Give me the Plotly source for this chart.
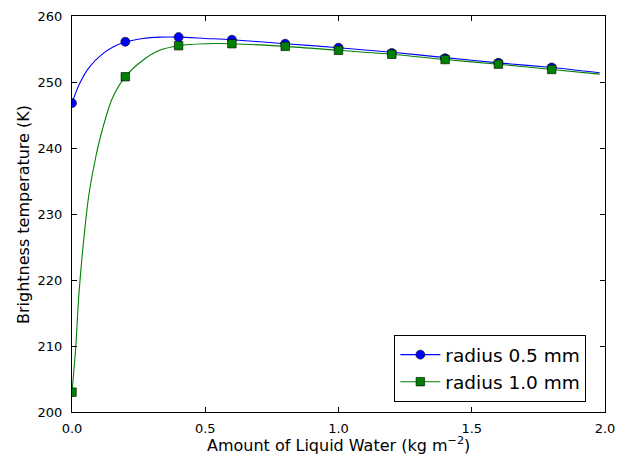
import plotly.graph_objects as go

# Marker data
x_marks = [0.0, 0.2, 0.4, 0.6, 0.8, 1.0, 1.2, 1.4, 1.6, 1.8]
blue_marks = [246.8, 256.1, 256.8, 256.4, 255.8, 255.2, 254.4, 253.6, 252.9, 252.2]
green_marks = [203.0, 250.8, 255.5, 255.8, 255.4, 254.8, 254.2, 253.4, 252.7, 251.9]

# Smooth curves
x_blue_curve = [0.0, 0.029, 0.066, 0.116, 0.154, 0.2, 0.266, 0.33, 0.4, 0.5, 0.6, 0.8, 1.0, 1.2, 1.4, 1.6, 1.8, 1.98]
y_blue_curve = [246.8, 249.8, 252.3, 254.3, 255.3, 256.05, 256.6, 256.8, 256.8, 256.6, 256.4, 255.8, 255.2, 254.5, 253.7, 252.9, 252.2, 251.4]
x_green_curve = [0.0, 0.014, 0.026, 0.045, 0.064, 0.089, 0.114, 0.151, 0.2, 0.266, 0.329, 0.4, 0.5, 0.6, 0.8, 1.0, 1.2, 1.4, 1.6, 1.8, 1.98]
y_green_curve = [203.0, 209.8, 217.9, 226.5, 233.1, 238.6, 242.8, 247.5, 250.8, 253.3, 254.8, 255.5, 255.8, 255.8, 255.4, 254.8, 254.2, 253.4, 252.7, 251.9, 251.2]

series_names = ["radius 0.5 mm", "radius 1.0 mm"]
x_ticks = [0.0, 0.5, 1.0, 1.5, 2.0]
y_ticks = [200, 210, 220, 230, 240, 250, 260]
x_title = "Amount of Liquid Water (kg m<sup>−2</sup>)"
y_title = "Brightness temperature (K)"

BLUE = "#0000ff"
GREEN = "#008000"
FONT = "DejaVu Sans"

fig = go.Figure()
fig.add_trace(go.Scatter(x=x_blue_curve, y=y_blue_curve, mode="lines",
                         line=dict(color=BLUE, width=1.1, shape="spline", smoothing=0.8),
                         showlegend=False, hoverinfo="skip"))
fig.add_trace(go.Scatter(x=x_green_curve, y=y_green_curve, mode="lines",
                         line=dict(color=GREEN, width=1.1, shape="spline", smoothing=0.8),
                         showlegend=False, hoverinfo="skip"))
fig.add_trace(go.Scatter(x=x_marks, y=blue_marks, mode="markers",
                         marker=dict(symbol="circle", size=9, color=BLUE,
                                     line=dict(color="black", width=0.6)),
                         showlegend=False))
fig.add_trace(go.Scatter(x=x_marks, y=green_marks, mode="markers",
                         marker=dict(symbol="square", size=8.5, color=GREEN,
                                     line=dict(color="black", width=0.6)),
                         showlegend=False))
# legend entries
fig.add_trace(go.Scatter(x=[None], y=[None], mode="lines+markers", name=series_names[0],
                         line=dict(color=BLUE, width=1.1),
                         marker=dict(symbol="circle", size=9, color=BLUE,
                                     line=dict(color="black", width=0.6))))
fig.add_trace(go.Scatter(x=[None], y=[None], mode="lines+markers", name=series_names[1],
                         line=dict(color=GREEN, width=1.1),
                         marker=dict(symbol="square", size=8.5, color=GREEN,
                                     line=dict(color="black", width=0.6))))

axis_common = dict(showgrid=False, zeroline=False, showline=True, linecolor="black",
                   linewidth=1, mirror="ticks", ticks="inside", ticklen=5,
                   tickcolor="black", tickwidth=1, automargin=False,
                   tickfont=dict(family=FONT, size=13, color="black"))

fig.update_xaxes(range=[0, 2.0], tickvals=x_ticks, ticktext=[f"{v:.1f}" for v in x_ticks],
                 ticklabelstandoff=4, **axis_common)
fig.update_yaxes(range=[200, 260], tickvals=y_ticks, ticktext=[str(v) for v in y_ticks],
                 ticklabelstandoff=6, **axis_common)

fig.add_annotation(text=x_title, xref="paper", yref="paper", x=0.5, y=-0.083,
                   xanchor="center", yanchor="middle", showarrow=False,
                   font=dict(family=FONT, size=16, color="black"))
fig.add_annotation(text=y_title, xref="paper", yref="paper", x=-0.092, y=0.5,
                   xanchor="center", yanchor="middle", showarrow=False, textangle=-90,
                   font=dict(family=FONT, size=16, color="black"))

# page body has an 8px margin, so the figure is sized to fit the window
fig.update_layout(
    width=622, height=448,
    margin=dict(l=64, r=25, t=8, b=44),
    plot_bgcolor="white", paper_bgcolor="white",
    font=dict(family=FONT, color="black"),
    legend=dict(x=0.965, y=0.025, xanchor="right", yanchor="bottom",
                bordercolor="black", borderwidth=1, bgcolor="white",
                font=dict(family=FONT, size=18.5, color="black"),
                itemwidth=40, tracegroupgap=0),
)

fig.write_html("out.html")
